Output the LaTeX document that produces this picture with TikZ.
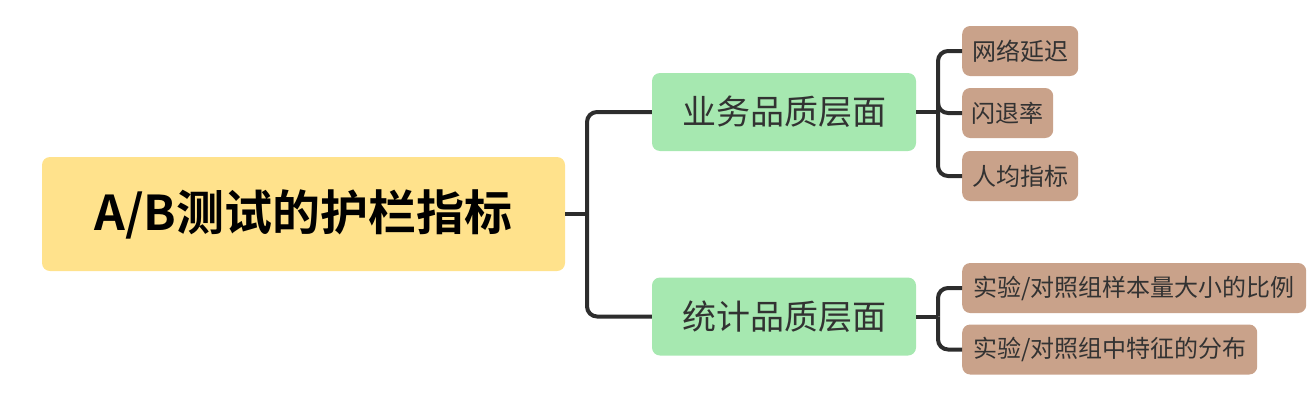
\documentclass[tikz,border=0pt]{standalone}
\usepackage{fontspec}
\newfontfamily\cjk{Noto Sans CJK SC}
\newfontfamily\cjkb{Noto Sans CJK SC Bold}
\definecolor{rootc}{RGB}{255,226,140}
\definecolor{midc}{RGB}{166,232,176}
\definecolor{leafc}{RGB}{201,162,138}
\definecolor{linec}{RGB}{45,45,45}
\definecolor{txtc}{RGB}{50,50,50}
\begin{document}
\begin{tikzpicture}[x=1pt,y=-1pt,
  rootbox/.style={fill=rootc,rounded corners=8pt,inner sep=0pt,minimum width=523pt,minimum height=114pt,font=\cjkb\fontsize{48}{52}\selectfont},
  midbox/.style={fill=midc,rounded corners=8pt,inner sep=0pt,minimum width=264pt,minimum height=78pt,text=txtc,font=\cjk\fontsize{34}{38}\selectfont},
  leafbox/.style={fill=leafc,rounded corners=8pt,inner sep=0pt,minimum height=50pt,anchor=west,text=txtc,font=\cjk\fontsize{24}{28}\selectfont},
  conn/.style={draw=linec,line width=4pt,rounded corners=10pt}]
\useasboundingbox (0,0) rectangle (1316,410);
\node[rootbox] (root) at (303.5,214) {A/B测试的护栏指标};
\node[midbox] (m1) at (784,112) {业务品质层面};
\node[midbox] (m2) at (784,316.5) {统计品质层面};
\node[leafbox,minimum width=116pt] (l1) at (962,51) {网络延迟};
\node[leafbox,minimum width=91pt] (l2) at (962,113) {闪退率};
\node[leafbox,minimum width=116pt] (l3) at (962,176) {人均指标};
\node[leafbox,minimum width=344pt] (l4) at (962,288) {实验/对照组样本量大小的比例};
\node[leafbox,minimum width=295pt] (l5) at (962,349.5) {实验/对照组中特征的分布};
\coordinate (t0) at (587,214);
\coordinate (t1) at (938,112);
\coordinate (t2) at (938,316.5);
\draw[conn] (root.east) -- (t0);
\draw[conn] (t0) |- (m1.west);
\draw[conn] (t0) |- (m2.west);
\draw[conn] (m1.east) -- (t1);
\draw[conn] (t1) |- (l1.west);
\draw[conn] (t1) |- (l2.west);
\draw[conn] (t1) |- (l3.west);
\draw[conn] (m2.east) -- (t2);
\draw[conn] (t2) |- (l4.west);
\draw[conn] (t2) |- (l5.west);
\end{tikzpicture}
\end{document}
